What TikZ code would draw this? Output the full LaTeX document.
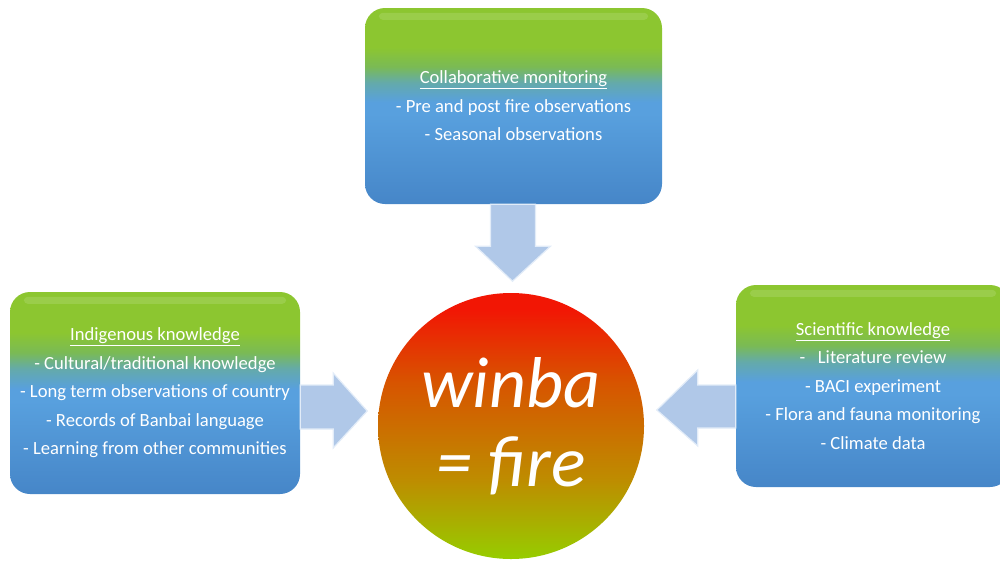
\documentclass[tikz,border=0pt]{standalone}
\usepackage{fontspec}
\setmainfont{Carlito}
\usetikzlibrary{calc}
\definecolor{bgreen}{RGB}{140,198,48}
\definecolor{bgreen2}{RGB}{122,186,85}
\definecolor{bteal}{RGB}{100,170,170}
\definecolor{bblue}{RGB}{88,160,222}
\definecolor{bbot}{RGB}{70,134,200}
\definecolor{cred}{RGB}{242,22,4}
\definecolor{corange}{RGB}{215,85,0}
\definecolor{colive}{RGB}{190,140,0}
\definecolor{cgreen}{RGB}{150,205,0}
\definecolor{arrowfill}{RGB}{176,200,232}
\definecolor{arrowedge}{RGB}{226,236,248}
\pgfdeclareverticalshading{boxsh}{100bp}{color(0bp)=(bbot); color(25bp)=(bbot); color(48bp)=(bblue); color(51bp)=(bblue); color(56bp)=(bteal); color(60bp)=(bgreen2); color(65bp)=(bgreen); color(100bp)=(bgreen)}
\pgfdeclareverticalshading{circsh}{100bp}{color(0bp)=(cgreen); color(25bp)=(cgreen); color(40bp)=(colive); color(58bp)=(corange); color(72bp)=(cred); color(100bp)=(cred)}
\tikzset{
  infobox/.style={rounded corners=20pt, shading=boxsh, draw=none, text=white, align=center,
    font=\fontsize{18.6}{28.5}\selectfont, inner sep=0pt},
  firecirc/.style={circle, shading=circsh, draw=none, text=white, align=center,
    font=\fontsize{72}{79}\selectfont\itshape, inner sep=0pt, minimum size=266pt},
  barrow/.style={fill=arrowfill, draw=arrowedge, line width=1.2pt, line join=miter},
  gloss/.style={fill=white, opacity=0.13, rounded corners=4pt}
}
\begin{document}
\begin{tikzpicture}[x=1pt,y=-1pt]
\useasboundingbox (0,0) rectangle (1000,560);
% boxes
\node[infobox, minimum width=297pt, minimum height=196pt] (top) at (513.5,106)
  {\underline{Collaborative monitoring}\\- Pre and post fire observations\\- Seasonal observations};
\node[infobox, minimum width=290pt, minimum height=202pt] (left) at (155,393)
  {\underline{Indigenous knowledge}\\- Cultural/traditional knowledge\\- Long term observations of country\\- Records of Banbai language\\- Learning from other communities};
\node[infobox, minimum width=274pt, minimum height=202pt] (right) at (873,386)
  {\underline{Scientific knowledge}\\-\ \ \ Literature review\\- BACI experiment\\- Flora and fauna monitoring\\- Climate data};
% gloss strips
\fill[gloss] ($(top.north west)+(14,5)$) rectangle ($(top.north east)+(-14,12)$);
\fill[gloss] ($(left.north west)+(14,5)$) rectangle ($(left.north east)+(-14,12)$);
\fill[gloss] ($(right.north west)+(14,5)$) rectangle ($(right.north east)+(-14,12)$);
% circle
\node[firecirc] (fire) at (511,426) {winba\\= fire};
% arrows
\draw[barrow, shift={(top.south)}] (-23,0) -- (22,0) -- (22,42) -- (37,42) -- (-1,77) -- (-38,42) -- (-23,42) -- cycle;
\draw[barrow, shift={(left.east)}] (0,-8) -- (33,-8) -- (33,-20) -- (67,18) -- (33,55) -- (33,36) -- (0,36) -- cycle;
\draw[barrow, shift={(right.west)}] (0,-1) -- (-38,-1) -- (-38,-16) -- (-79,24) -- (-38,60) -- (-38,42) -- (0,42) -- cycle;
\end{tikzpicture}
\end{document}
